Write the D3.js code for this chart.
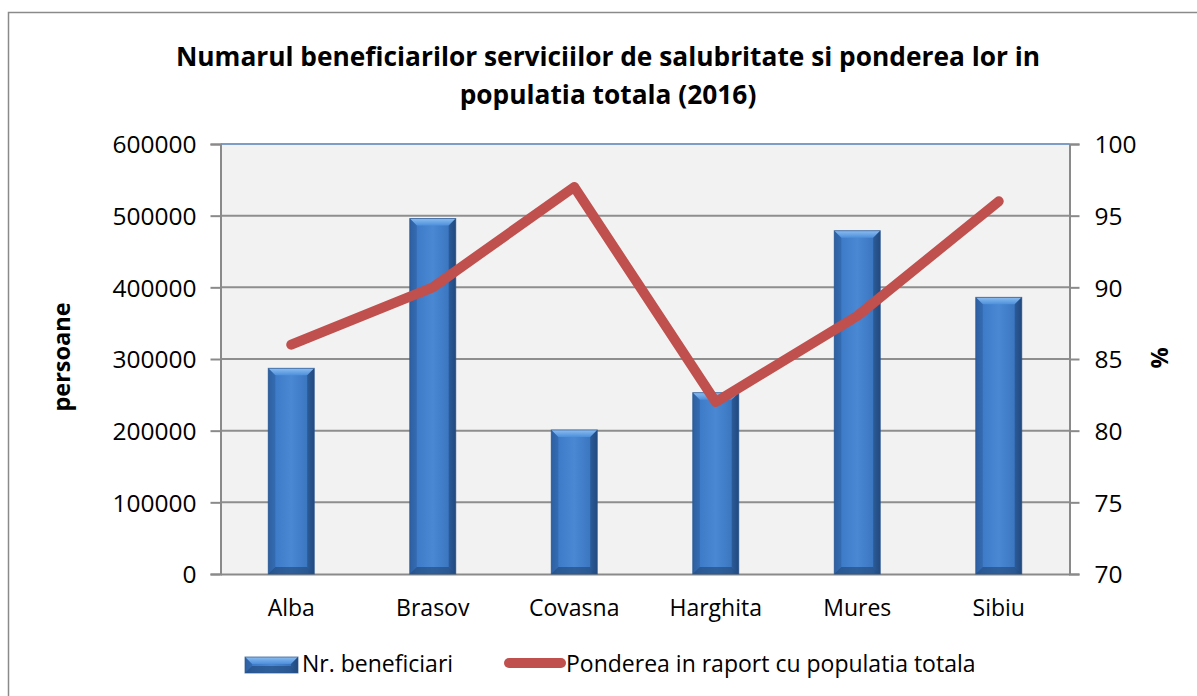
<!DOCTYPE html>
<html>
<head>
<meta charset="utf-8">
<script src="https://cdn.jsdelivr.net/npm/d3@7"></script>
<style>
  html, body { margin: 0; padding: 0; background: #fff; }
  svg { display: block; font-family: "Open Sans", "Noto Sans", sans-serif; }
</style>
</head>
<body>
<svg id="chart" width="1197" height="696"></svg>
<script>
// Judete din regiunea Centru
const categories = ["Alba", "Brasov", "Covasna", "Harghita", "Mures", "Sibiu"];
// Numarul beneficiarilor serviciilor de salubritate (persoane)
const beneficiari = [287000, 496000, 201000, 253000, 479000, 386000];
// Ponderea in populatia totala (%)
const pondere = [86, 90, 97, 82, 88, 96];
// Diviziuni axe
const leftTicks = [0, 100000, 200000, 300000, 400000, 500000, 600000];
const rightTicks = [70, 75, 80, 85, 90, 95, 100];

const svg = d3.select("#chart");
const W = 1197, H = 696;
const plot = { left: 220.5, right: 1069.5, top: 144, bottom: 574 };

// chenarul graficului
svg.append("rect").attr("x", 8.5).attr("y", 12.5).attr("width", W + 20).attr("height", H + 20)
  .attr("fill", "#fff").attr("stroke", "#8a8a8a").attr("stroke-width", 1.5);

// titlu
const title = svg.append("text").attr("text-anchor", "middle").attr("font-weight", "bold")
  .attr("font-size", 26.3).attr("fill", "#000");
title.append("tspan").attr("x", 608).attr("y", 66)
  .text("Numarul beneficiarilor serviciilor de salubritate si ponderea lor in");
title.append("tspan").attr("x", 608).attr("y", 104).text("populatia totala (2016)");

const x = d3.scaleBand().domain(categories).range([plot.left, plot.right]).padding(0);
const yL = d3.scaleLinear().domain([0, 600000]).range([plot.bottom, plot.top]);
const yR = d3.scaleLinear().domain([70, 100]).range([plot.bottom, plot.top]);

// fundalul zonei de reprezentare
svg.append("rect").attr("x", plot.left).attr("y", plot.top)
  .attr("width", plot.right - plot.left).attr("height", plot.bottom - plot.top)
  .attr("fill", "#f2f2f2");

// linii de grila
svg.append("g").selectAll("line").data(leftTicks.slice(1, -1)).join("line")
  .attr("x1", plot.left).attr("x2", plot.right)
  .attr("y1", d => yL(d)).attr("y2", d => yL(d))
  .attr("stroke", "#8e8e8e").attr("stroke-width", 2);
svg.append("line").attr("x1", plot.left).attr("x2", plot.right)
  .attr("y1", plot.top).attr("y2", plot.top)
  .attr("stroke", "#7d9cc8").attr("stroke-width", 2);

// axa stanga
const axL = svg.append("g").attr("transform", `translate(${plot.left},0)`)
  .call(d3.axisLeft(yL).tickValues(leftTicks).tickFormat(d3.format("d")).tickSize(10).tickPadding(14));
// axa dreapta
const axR = svg.append("g").attr("transform", `translate(${plot.right},0)`)
  .call(d3.axisRight(yR).tickValues(rightTicks).tickFormat(d3.format("d")).tickSize(10).tickPadding(15));
// axa categoriilor
const axB = svg.append("g").attr("transform", `translate(0,${plot.bottom})`)
  .call(d3.axisBottom(x).tickSize(0).tickPadding(22));

[axL, axR, axB].forEach(g => {
  g.selectAll(".domain").attr("stroke", "#8a8a8a").attr("stroke-width", 2);
  g.selectAll(".tick line").attr("stroke", "#8a8a8a").attr("stroke-width", 2);
  g.selectAll(".tick text").attr("fill", "#000")
    .attr("font-family", "'Open Sans', sans-serif");
});
axL.selectAll(".tick text").attr("font-size", 24.5).attr("dy", "0.36em");
axR.selectAll(".tick text").attr("font-size", 24.5).attr("dy", "0.36em");
axB.selectAll(".tick text").attr("font-size", 23).attr("dy", "0.85em");

// gradiente pentru coloane
const defs = svg.append("defs");
const g1 = defs.append("linearGradient").attr("id", "barBody").attr("x1", 0).attr("x2", 1).attr("y1", 0).attr("y2", 0);
[[0, "#2f63a6"], [0.15, "#3d7ac7"], [0.5, "#4a88d4"], [0.85, "#3b76c0"], [1, "#244f88"]]
  .forEach(([o, c]) => g1.append("stop").attr("offset", o).attr("stop-color", c));
const g2 = defs.append("linearGradient").attr("id", "barTop").attr("x1", 0).attr("x2", 0).attr("y1", 0).attr("y2", 1);
[[0, "#8cbdf0"], [1, "#4d8fdc"]].forEach(([o, c]) => g2.append("stop").attr("offset", o).attr("stop-color", c));

const barW = x.bandwidth() * 0.325;
const bev = 7;

function bevelBar(g, x0, y0, w, h) {
  g.append("rect").attr("x", x0).attr("y", y0).attr("width", w).attr("height", h)
    .attr("fill", "url(#barBody)");
  // marginea de sus
  g.append("path").attr("d", `M${x0},${y0}L${x0 + w},${y0}L${x0 + w - bev},${y0 + bev}L${x0 + bev},${y0 + bev}Z`)
    .attr("fill", "url(#barTop)");
  // marginile laterale
  g.append("path").attr("d", `M${x0},${y0}L${x0 + bev},${y0 + bev}L${x0 + bev},${y0 + h - bev}L${x0},${y0 + h}Z`)
    .attr("fill", "#2e5f9f").attr("opacity", 0.55);
  g.append("path").attr("d", `M${x0 + w},${y0}L${x0 + w - bev},${y0 + bev}L${x0 + w - bev},${y0 + h - bev}L${x0 + w},${y0 + h}Z`)
    .attr("fill", "#1f4677").attr("opacity", 0.55);
  // marginea de jos
  g.append("path").attr("d", `M${x0},${y0 + h}L${x0 + bev},${y0 + h - bev}L${x0 + w - bev},${y0 + h - bev}L${x0 + w},${y0 + h}Z`)
    .attr("fill", "#1e4575").attr("opacity", 0.6);
  g.append("rect").attr("x", x0).attr("y", y0).attr("width", w).attr("height", h)
    .attr("fill", "none").attr("stroke", "#2a5590").attr("stroke-width", 1).attr("opacity", 0.7);
}

const bars = svg.append("g");
categories.forEach((c, i) => {
  const cx = x(c) + x.bandwidth() / 2;
  const y0 = yL(beneficiari[i]);
  bevelBar(bars.append("g"), cx - barW / 2, y0, barW, plot.bottom - y0);
});

// linia ponderii
const line = d3.line().x((d, i) => x(categories[i]) + x.bandwidth() / 2).y(d => yR(d));
svg.append("path").datum(pondere).attr("d", line)
  .attr("fill", "none").attr("stroke", "#c0504d").attr("stroke-width", 10)
  .attr("stroke-linejoin", "round").attr("stroke-linecap", "round");

// titlurile axelor verticale
svg.append("text").attr("transform", `translate(70,357) rotate(-90)`)
  .attr("text-anchor", "middle").attr("font-weight", "bold").attr("font-size", 23.5).text("persoane");
svg.append("text").attr("transform", `translate(1168,358) rotate(-90)`)
  .attr("text-anchor", "middle").attr("font-weight", "bold").attr("font-size", 23.5).text("%");

// legenda
const leg = svg.append("g");
bevelBar(leg.append("g"), 245, 657, 53, 16);
leg.append("text").attr("x", 302).attr("y", 672).attr("font-size", 23).text("Nr. beneficiari");
leg.append("line").attr("x1", 509).attr("x2", 561).attr("y1", 663).attr("y2", 663)
  .attr("stroke", "#c0504d").attr("stroke-width", 10).attr("stroke-linecap", "round");
leg.append("text").attr("x", 566).attr("y", 672).attr("font-size", 23).text("Ponderea in raport cu populatia totala");
</script>
</body>
</html>
